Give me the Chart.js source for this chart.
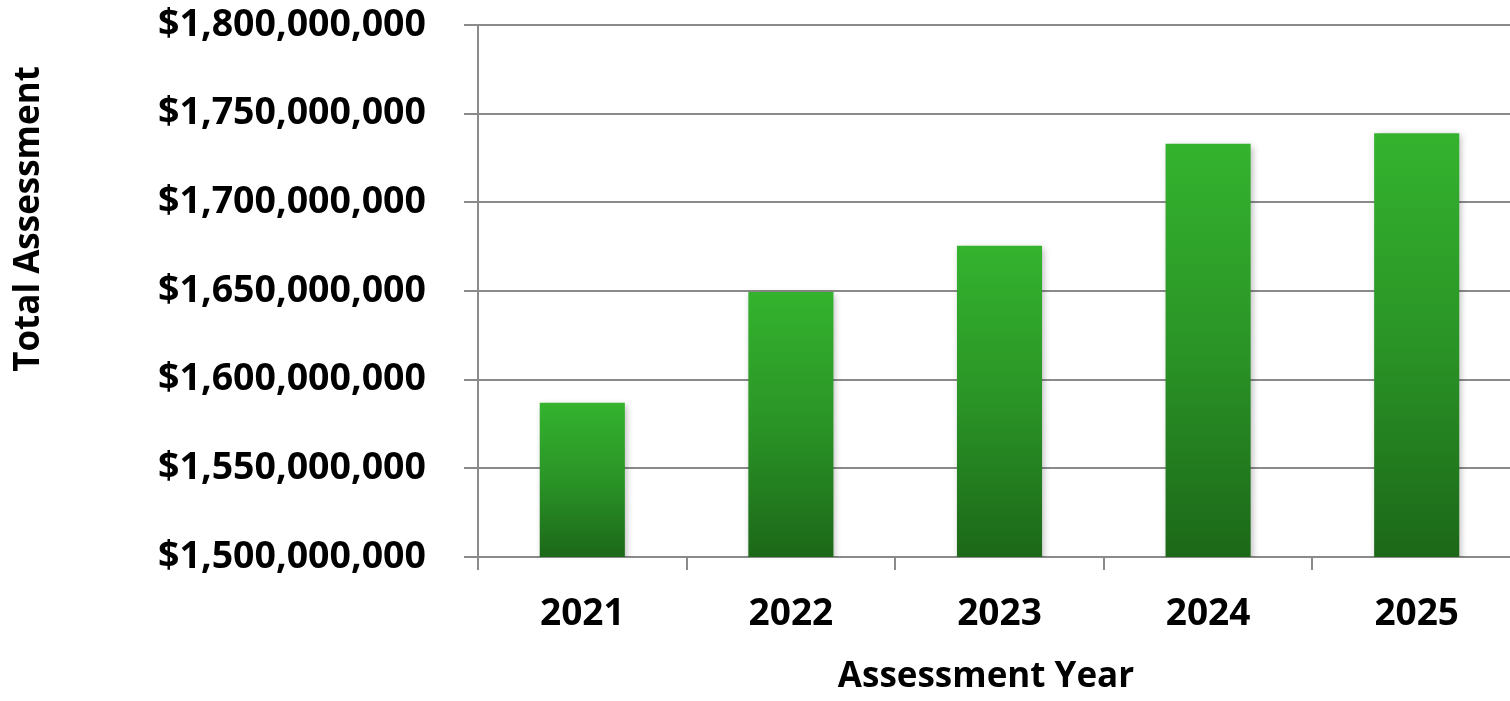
<!DOCTYPE html>
<html>
<head>
<meta charset="utf-8">
<script src="https://cdn.jsdelivr.net/npm/chart.js@4.4.1/dist/chart.umd.min.js"></script>
<style>
  html, body { margin: 0; padding: 0; background: #ffffff; overflow: hidden; }
  #wrap { position: relative; width: 1510px; height: 701px; overflow: hidden; }
  canvas { display: block; }
</style>
</head>
<body>
<div id="wrap"><canvas id="c" width="1521" height="701"></canvas></div>
<script>
const categories = ['2021', '2022', '2023', '2024', '2025'];
const totalAssessment = [1587000000, 1649500000, 1675500000, 1733000000, 1739000000];
const yMin = 1500000000;
const yMax = 1800000000;
const yStep = 50000000;
const xTitle = 'Assessment Year';
const yTitle = 'Total Assessment';

const FONT = "'Open Sans', sans-serif";
const GRID = '#8a8a8a';

function barGradient(ctx) {
  const chart = ctx.chart;
  if (!chart.chartArea || !chart.scales.y) return '#2a9a26';
  const ys = chart.scales.y;
  const top = ys.getPixelForValue(ctx.raw);
  const bottom = ys.getPixelForValue(yMin);
  if (!isFinite(top) || !isFinite(bottom) || top === bottom) return '#2a9a26';
  const g = chart.ctx.createLinearGradient(0, top, 0, bottom);
  g.addColorStop(0, '#34b32e');
  g.addColorStop(0.5, '#2a9426');
  g.addColorStop(1, '#1c6818');
  return g;
}

const shadowPlugin = {
  id: 'barShadow',
  beforeDatasetDraw(chart) {
    const c = chart.ctx;
    c.save();
    c.shadowColor = 'rgba(0,0,0,0.28)';
    c.shadowBlur = 7;
    c.shadowOffsetX = 2;
    c.shadowOffsetY = 2;
  },
  afterDatasetDraw(chart) {
    chart.ctx.restore();
  }
};

const axisTitlePlugin = {
  id: 'axisTitles',
  afterDraw(chart) {
    const c = chart.ctx;
    c.save();
    c.fillStyle = '#000';
    c.font = "bold 35px " + FONT;
    c.textAlign = 'center';
    c.textBaseline = 'alphabetic';
    c.fillText(xTitle, 986, 687);
    c.translate(29, 219);
    c.rotate(-Math.PI / 2);
    c.textBaseline = 'middle';
    c.fillText(yTitle, 0, 0);
    c.restore();
  }
};

new Chart(document.getElementById('c'), {
  type: 'bar',
  data: {
    labels: categories,
    datasets: [{
      label: yTitle,
      data: totalAssessment,
      backgroundColor: barGradient,
      borderWidth: 0,
      categoryPercentage: 1.0,
      barPercentage: 0.408
    }]
  },
  options: {
    responsive: false,
    animation: false,
    devicePixelRatio: 1,
    layout: { padding: { top: 25, right: 0, bottom: 0, left: 0 } },
    plugins: {
      legend: { display: false },
      tooltip: { enabled: false }
    },
    scales: {
      x: {
        grid: {
          display: true,
          offset: true,
          drawOnChartArea: false,
          drawTicks: true,
          tickLength: 13,
          color: GRID,
          lineWidth: 2
        },
        border: { display: true, color: GRID, width: 2 },
        ticks: {
          color: '#000',
          font: { family: FONT, size: 37, weight: 'bold' },
          padding: 22,
          maxRotation: 0
        },
        title: { display: false, text: xTitle },
        afterFit(scale) {
          scale.height = 144;
          scale.paddingLeft = 0;
          scale.paddingRight = 0;
        }
      },
      y: {
        min: yMin,
        max: yMax,
        grid: {
          color: GRID,
          lineWidth: 2,
          drawTicks: true,
          tickLength: 14
        },
        border: { display: true, color: GRID, width: 2 },
        ticks: {
          stepSize: yStep,
          color: '#000',
          padding: 38,
          font: { family: FONT, size: 37.5, weight: 'bold' },
          callback: v => '$' + Number(v).toLocaleString('en-US')
        },
        afterFit(scale) {
          scale.width = 478;
          scale.paddingTop = 0;
          scale.paddingBottom = 0;
        }
      }
    }
  },
  plugins: [shadowPlugin, axisTitlePlugin]
});
</script>
</body>
</html>
